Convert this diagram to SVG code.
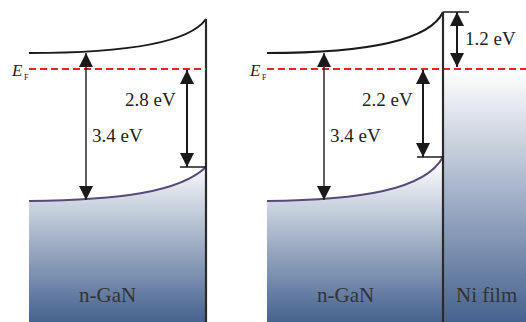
<svg xmlns="http://www.w3.org/2000/svg" width="526" height="322" viewBox="0 0 526 322">
<style>
.band{fill:none;stroke:#1a1a1a;stroke-width:2}
.vb{fill:none;stroke:#564a78;stroke-width:2}
.wall{stroke:#2a2a2a;stroke-width:2.2}
.ef{stroke:#ee2020;stroke-width:2;stroke-dasharray:7,4}
.tick{stroke:#1a1a1a;stroke-width:1.5}
.arr{stroke:#1a1a1a;stroke-width:1.4;marker-start:url(#ah);marker-end:url(#ah)}
.arr2{stroke:#1a1a1a;stroke-width:2;marker-start:url(#ah);marker-end:url(#ah)}
.t{font-family:'Liberation Serif','DejaVu Serif',serif}
.lbl{font-size:19px;fill:#222}
.big{font-size:21px;fill:#333}
</style>
<defs>
<linearGradient id="gan" gradientUnits="userSpaceOnUse" x1="0" y1="160" x2="0" y2="322">
<stop offset="0" stop-color="#ffffff"/>
<stop offset="1" stop-color="#46628f"/>
</linearGradient>
<linearGradient id="ni" gradientUnits="userSpaceOnUse" x1="0" y1="70" x2="0" y2="322">
<stop offset="0" stop-color="#ffffff"/>
<stop offset="1" stop-color="#46628f"/>
</linearGradient>
<marker id="ah" markerUnits="userSpaceOnUse" viewBox="0 0 14 14" refX="14" refY="7" markerWidth="14" markerHeight="14" orient="auto-start-reverse">
<path d="M0,0 L14,7 L0,14 Z" fill="#1a1a1a"/>
</marker>
</defs>

<g id="left-gan">
<path d="M29,201 C120,200 180,192 206,167 L206,322 L29,322 Z" fill="url(#gan)"/>
<path class="vb" d="M29,201 C120,200 180,192 206,167"/>
<path class="band" d="M29,53 C130,53 190,42 206,19"/>
<line class="wall" x1="206" y1="19" x2="206" y2="322"/>
<line class="ef" x1="29" y1="69" x2="206" y2="69"/>
<text class="t" x="12" y="76" font-size="17" font-style="italic" fill="#222">E</text>
<text class="t" x="24" y="80" font-size="8" fill="#222">F</text>
<text class="t big" x="79" y="302">n-GaN</text>
</g>

<g id="right-gan">
<path d="M267,201 C360,200 425,190 443,157 L443,322 L267,322 Z" fill="url(#gan)"/>
<path class="vb" d="M267,201 C360,200 425,190 443,157"/>
<path class="band" d="M267,53 C370,53 430,40 443,12"/>
<line class="ef" x1="267" y1="69" x2="443" y2="69"/>
<text class="t" x="250" y="76" font-size="17" font-style="italic" fill="#222">E</text>
<text class="t" x="262" y="80" font-size="8" fill="#222">F</text>
<text class="t big" x="317" y="302">n-GaN</text>
</g>

<g id="ni-film">
<rect x="443" y="71" width="83" height="251" fill="url(#ni)"/>
<line class="ef" x1="443" y1="69" x2="526" y2="69"/>
<line class="wall" x1="443" y1="12" x2="443" y2="322" stroke-width="2.6"/>
<text class="t big" x="456" y="302">Ni film</text>
</g>

<g id="connectors">
<line class="tick" x1="180" y1="167" x2="206" y2="167"/>
<line class="tick" x1="417" y1="157" x2="443" y2="157"/>
<line class="tick" x1="443" y1="12" x2="469" y2="12"/>
<line class="arr" x1="86" y1="53" x2="86" y2="200"/>
<line class="arr2" x1="187" y1="70" x2="187" y2="167"/>
<line class="arr" x1="324" y1="53" x2="324" y2="200"/>
<line class="arr2" x1="423" y1="70" x2="423" y2="157"/>
<line class="arr2" x1="457" y1="12" x2="457" y2="67"/>
</g>

<g id="labels">
<text class="t lbl" x="125" y="106">2.8 eV</text>
<text class="t lbl" x="92" y="142">3.4 eV</text>
<text class="t lbl" x="362" y="106">2.2 eV</text>
<text class="t lbl" x="330" y="142">3.4 eV</text>
<text class="t lbl" x="465" y="45">1.2 eV</text>
</g>
</svg>
